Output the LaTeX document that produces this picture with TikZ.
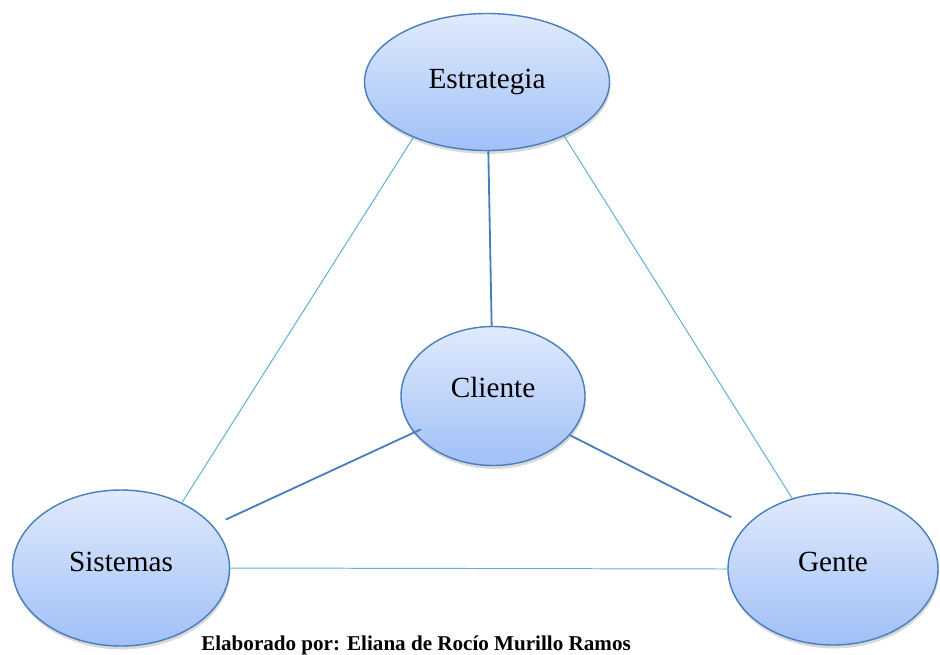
\documentclass[tikz,border=0pt]{standalone}
\usepackage{fontspec}
\setmainfont{Liberation Serif}
\usetikzlibrary{shapes.geometric,shadows}

\definecolor{ovaltop}{HTML}{E0EAFC}
\definecolor{ovalbottom}{HTML}{A0C0F7}
\definecolor{ovalborder}{HTML}{4A7EBB}
\definecolor{thinblue}{HTML}{5CB3CF}

\begin{document}
\begin{tikzpicture}[x=0.025cm,y=-0.025cm,
    oval/.style={ellipse,draw=ovalborder,line width=1pt,top color=ovaltop,bottom color=ovalbottom,
      inner sep=0pt,font=\fontsize{20.8}{24}\selectfont,
      drop shadow={opacity=.3,shadow xshift=.6pt,shadow yshift=-2.4pt}},
    darkline/.style={ovalborder,line width=1.3pt},
    lightline/.style={thinblue,line width=.7pt}]
    \useasboundingbox (0,0) rectangle (940,654);
    \node[oval,minimum width=245*0.025cm,minimum height=137*0.025cm] (est) at (487,82) {Estrategia};
    \node[oval,text depth=.42cm,minimum width=184*0.025cm,minimum height=139*0.025cm] (cli) at (493,396) {Cliente};
    \node[oval,text depth=.33cm,minimum width=217*0.025cm,minimum height=156*0.025cm] (sis) at (121,568) {Sistemas};
    \node[oval,text depth=.35cm,minimum width=210*0.025cm,minimum height=152*0.025cm] (gen) at (833,569) {Gente};
    \draw[lightline] (est.217) -- (sis.47);
    \draw[lightline] (est.325) -- (gen.120);
    \draw[lightline] (sis.east) -- (gen.west);
    \draw[darkline] (est) -- (cli);
    \draw[darkline,shorten <=-5.5pt,shorten >=10pt] (cli) -- (sis);
    \draw[darkline,shorten >=12pt] (cli) -- (gen);
    \node[anchor=base,font=\fontsize{15}{18}\selectfont\bfseries] (cap) at (416,650)
      {Elaborado por: Eliana de Rocío Murillo Ramos};
\end{tikzpicture}
\end{document}
